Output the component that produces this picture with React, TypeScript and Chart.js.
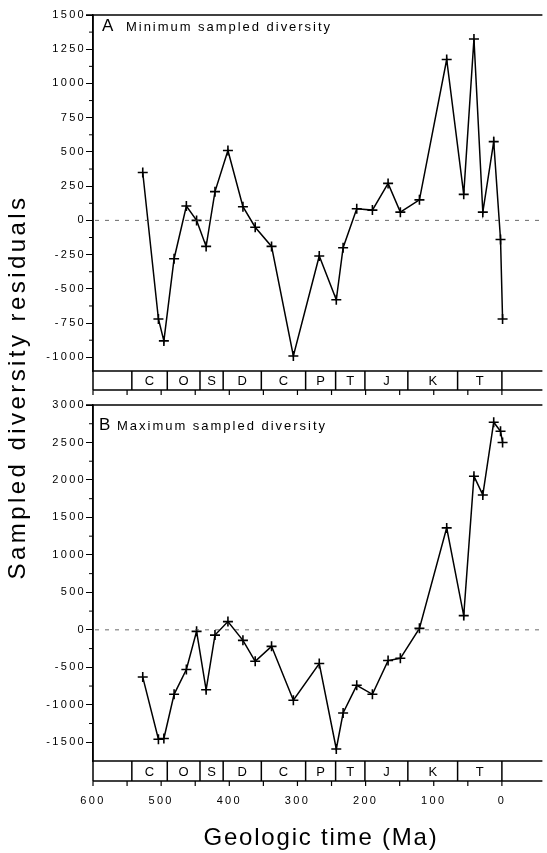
import React, { useEffect, useRef } from 'react';
import { Chart, registerables } from 'chart.js';

Chart.register(...registerables);

// ---- data ----
const ageMa = [527, 504, 496, 481, 463, 448, 434, 421, 402, 380, 362, 338, 306, 268, 243, 233, 213, 190, 167, 149, 121, 81, 56, 41, 28, 12, 2, -1];
const minSampledResiduals = [350, -720, -880, -280, 105, 0, -190, 210, 510, 100, -50, -190, -990, -260, -580, -200, 85, 75, 270, 60, 150, 1175, 190, 1325, 60, 575, -140, -720];
const maxSampledResiduals = [-630, -1460, -1450, -860, -530, -20, -800, -70, 110, -140, -420, -220, -940, -450, -1590, -1110, -740, -860, -410, -380, 20, 1360, 190, 2050, 1800, 2770, 2650, 2500];
const minTickValues = [1500, 1250, 1000, 750, 500, 250, 0, -250, -500, -750, -1000];
const maxTickValues = [3000, 2500, 2000, 1500, 1000, 500, 0, -500, -1000, -1500];
const timeTickValues = [600, 500, 400, 300, 200, 100, 0];
const periodBoundaries = [600, 543, 491, 443, 409, 353, 288, 244, 201, 138, 65, 0];
const periodLabels = ['', 'C', 'O', 'S', 'D', 'C', 'P', 'T', 'J', 'K', 'T', ''];

// ---- layout / style constants ----
const W = 547;
const H = 853;
const AXIS_X = 93;
const X_MIN = -56.5;
const FONT = '"Liberation Sans", Arial, Helvetica, sans-serif';

function line(ctx: CanvasRenderingContext2D, x1: number, y1: number, x2: number, y2: number) {
  ctx.beginPath();
  ctx.moveTo(x1, y1);
  ctx.lineTo(x2, y2);
  ctx.stroke();
}

function fillFitted(ctx: CanvasRenderingContext2D, text: string, x: number, y: number, width: number, align: 'left' | 'center') {
  ctx.letterSpacing = '0px';
  ctx.textAlign = 'left';
  const w = ctx.measureText(text).width;
  const sp = (width - w) / text.length;
  ctx.letterSpacing = sp + 'px';
  const sx = align === 'center' ? x - width / 2 : x;
  ctx.fillText(text, sx, y);
  ctx.letterSpacing = '0px';
}

const panelDecor = {
  id: 'panelDecor',
  beforeDraw(chart: any) {
    chart.ctx.letterSpacing = '2.3px';
  },
  afterDraw(chart: any, _args: any, opts: any) {
    const { ctx, chartArea: ca } = chart;
    const x = chart.scales.x;
    const y = chart.scales.y;
    ctx.save();
    ctx.letterSpacing = '0px';
    ctx.strokeStyle = '#000';
    ctx.fillStyle = '#000';

    // top border of panel
    ctx.lineWidth = 1.5;
    line(ctx, ca.left - 7, ca.top, ca.right + 2, ca.top);

    // dashed zero line
    const y0 = y.getPixelForValue(0);
    ctx.save();
    ctx.setLineDash([4, 6]);
    ctx.lineWidth = 0.8;
    ctx.strokeStyle = '#444';
    line(ctx, ca.left + 2, y0, ca.right, y0);
    ctx.restore();

    // minor y ticks (midpoints between labelled ticks)
    ctx.lineWidth = 1;
    const yt: number[] = opts.yTicks;
    for (let i = 0; i < yt.length - 1; i++) {
      const py = y.getPixelForValue((yt[i] + yt[i + 1]) / 2);
      line(ctx, ca.left - 4, py, ca.left, py);
    }

    // geologic timescale bar
    const barTop = ca.bottom;
    const barBottom = ca.bottom + opts.barHeight;
    ctx.lineWidth = 1.5;
    line(ctx, ca.left, barTop, ca.right + 2, barTop);
    line(ctx, ca.left, barBottom, ca.right + 2, barBottom);
    line(ctx, ca.left, ca.top, ca.left, barBottom);
    for (let i = 1; i < periodBoundaries.length; i++) {
      const px = x.getPixelForValue(periodBoundaries[i]);
      line(ctx, px, barTop, px, barBottom);
    }
    ctx.font = '13px ' + FONT;
    ctx.textAlign = 'center';
    ctx.textBaseline = 'middle';
    for (let i = 0; i < periodLabels.length; i++) {
      const l = x.getPixelForValue(periodBoundaries[i]);
      const r = i + 1 < periodBoundaries.length ? x.getPixelForValue(periodBoundaries[i + 1]) : ca.right;
      if (periodLabels[i]) ctx.fillText(periodLabels[i], (l + r) / 2, (barTop + barBottom) / 2 + 1);
    }

    // tick marks under the bar every 50 Ma
    ctx.lineWidth = 1.2;
    for (let t = 600; t >= 0; t -= 50) {
      const px = x.getPixelForValue(t);
      line(ctx, px, barBottom, px, barBottom + 5);
    }

    // panel label
    ctx.textBaseline = 'alphabetic';
    ctx.textAlign = 'left';
    ctx.font = '17px ' + FONT;
    ctx.fillText(opts.letter, opts.letterX, opts.labelY);
    ctx.font = '13px ' + FONT;
    fillFitted(ctx, opts.label, opts.labelX, opts.labelY, opts.labelWidth, 'left');

    // axis titles
    if (opts.titles) {
      ctx.font = '24px ' + FONT;
      fillFitted(ctx, 'Geologic time (Ma)', 321, 845, 235, 'center');
      ctx.save();
      ctx.translate(25, 387);
      ctx.rotate(-Math.PI / 2);
      ctx.font = '24px ' + FONT;
      fillFitted(ctx, 'Sampled diversity residuals', 0, 0, 385, 'center');
      ctx.restore();
    }
    ctx.restore();
  },
};

function panelConfig(p: any): any {
  const tickFont = { family: FONT, size: 11 };
  return {
    type: 'line',
    data: {
      datasets: [
        {
          data: ageMa.map((t, i) => ({ x: t, y: p.values[i] })),
          borderColor: '#000',
          borderWidth: 1.5,
          pointStyle: 'cross',
          pointRadius: 5,
          pointBorderWidth: 1.6,
          pointBorderColor: '#000',
          pointBackgroundColor: '#000',
          tension: 0,
          fill: false,
        },
      ],
    },
    options: {
      responsive: false,
      animation: false,
      events: [],
      layout: { padding: { top: p.top, bottom: p.showX ? 0 : H - p.bottom, left: 0, right: 0 } },
      plugins: {
        legend: { display: false },
        tooltip: { enabled: false },
        panelDecor: {
          yTicks: p.yTicks,
          barHeight: p.barHeight,
          letter: p.letter,
          letterX: p.letterX,
          label: p.label,
          labelX: p.labelX,
          labelY: p.labelY,
          labelWidth: p.labelWidth,
          titles: p.showX,
        },
      },
      scales: {
        x: {
          type: 'linear',
          reverse: true,
          min: X_MIN,
          max: 600,
          display: p.showX,
          position: 'bottom',
          afterFit: (s: any) => {
            if (p.showX) s.height = H - p.bottom;
          },
          afterBuildTicks: (s: any) => {
            s.ticks = timeTickValues.map((v) => ({ value: v }));
          },
          grid: { display: false, drawTicks: false },
          border: { display: false },
          ticks: {
            padding: 33,
            font: tickFont,
            color: '#000',
            maxRotation: 0,
            autoSkip: false,
            callback: (v: any) => String(v),
          },
        },
        y: {
          type: 'linear',
          min: p.yMin,
          max: p.yMax,
          position: 'left',
          afterFit: (s: any) => {
            s.width = AXIS_X;
          },
          afterBuildTicks: (s: any) => {
            s.ticks = p.yTicks.map((v: number) => ({ value: v }));
          },
          grid: { drawOnChartArea: false, drawTicks: true, tickLength: 7, color: '#000', lineWidth: 1 },
          border: { display: true, color: '#000', width: 1.5 },
          ticks: { padding: 0, font: tickFont, color: '#000', callback: (v: any) => String(v) },
        },
      },
    },
    plugins: [panelDecor],
  };
}

export default function App() {
  const refA = useRef<HTMLCanvasElement>(null);
  const refB = useRef<HTMLCanvasElement>(null);

  useEffect(() => {
    const a = new Chart(
      refA.current as HTMLCanvasElement,
      panelConfig({
        values: minSampledResiduals,
        yMin: -1100,
        yMax: 1500,
        yTicks: minTickValues,
        top: 15,
        bottom: 371,
        barHeight: 19,
        showX: false,
        letter: 'A',
        letterX: 102,
        label: 'Minimum sampled diversity',
        labelX: 126,
        labelY: 31,
        labelWidth: 206,
      })
    );
    const b = new Chart(
      refB.current as HTMLCanvasElement,
      panelConfig({
        values: maxSampledResiduals,
        yMin: -1750,
        yMax: 3000,
        yTicks: maxTickValues,
        top: 405,
        bottom: 761,
        barHeight: 20,
        showX: true,
        letter: 'B',
        letterX: 99,
        label: 'Maximum sampled diversity',
        labelX: 117,
        labelY: 430,
        labelWidth: 210,
      })
    );
    return () => {
      a.destroy();
      b.destroy();
    };
  }, []);

  const cs: React.CSSProperties = { position: 'absolute', left: 0, top: 0, width: W, height: H };
  return (
    <div style={{ position: 'absolute', left: 0, top: 0, width: W, height: H, background: '#fff' }}>
      <canvas ref={refA} width={W} height={H} style={cs} />
      <canvas ref={refB} width={W} height={H} style={cs} />
    </div>
  );
}
